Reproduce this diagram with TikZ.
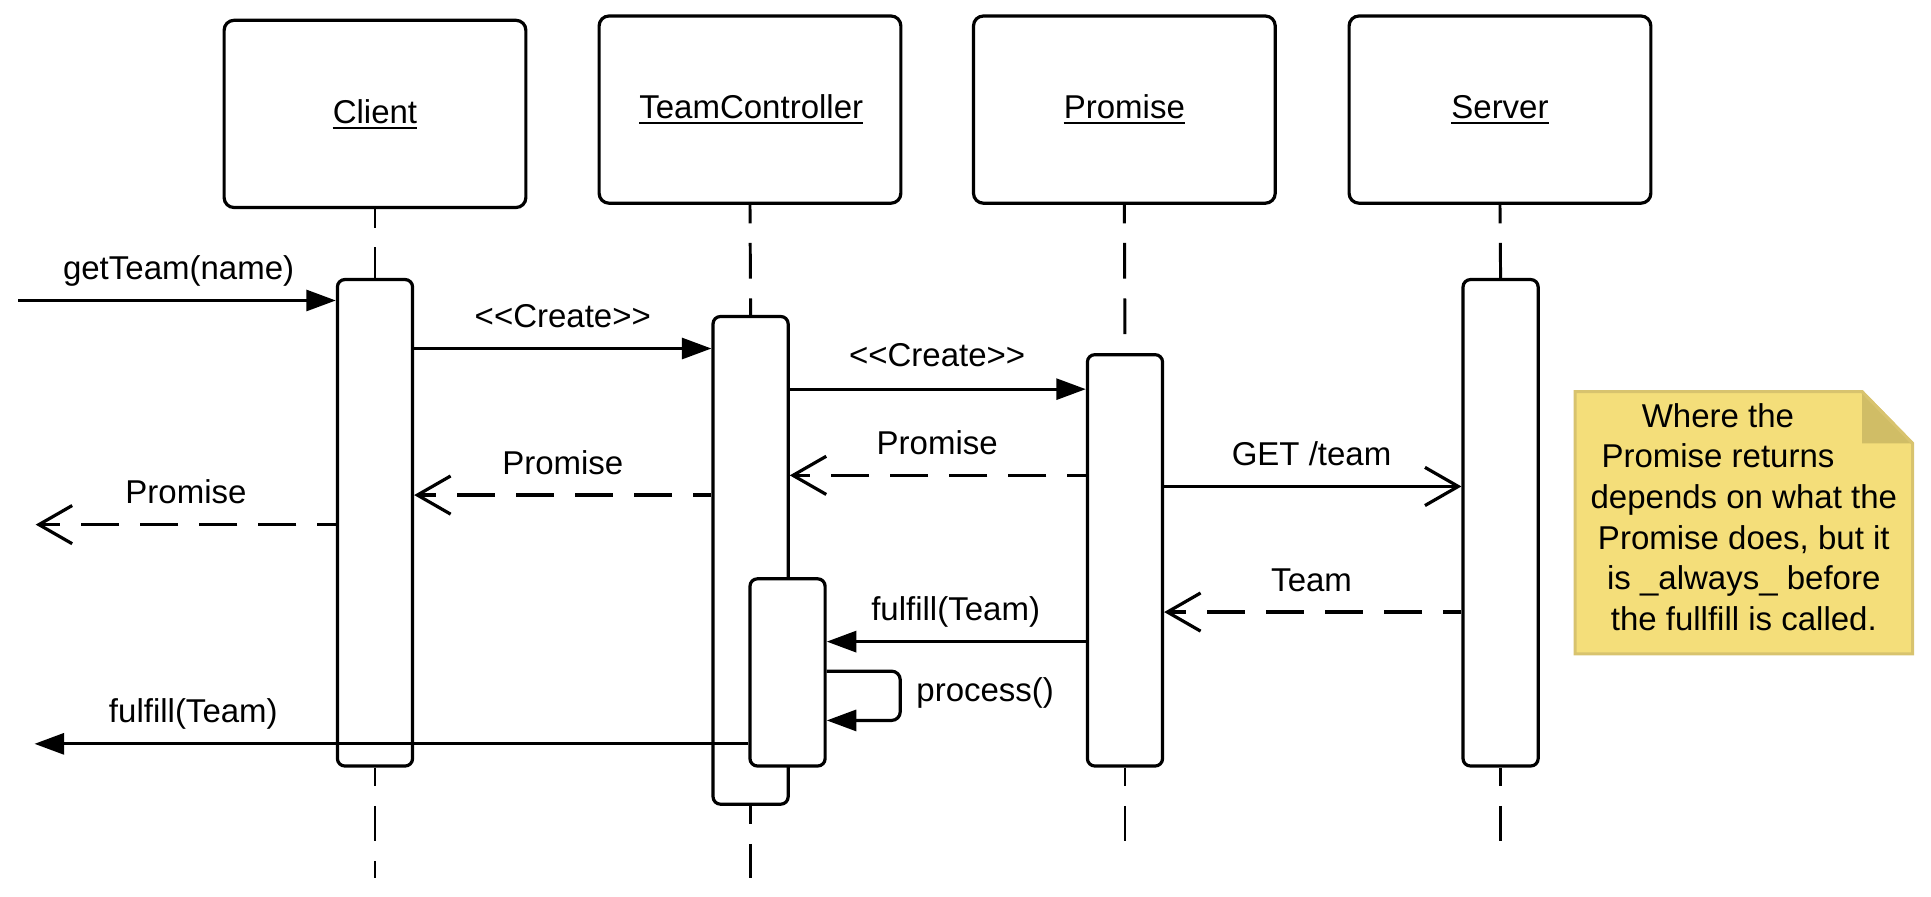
\documentclass[tikz,border=0pt]{standalone}
\usepackage{fontspec}
\setmainfont{Liberation Sans}
\usetikzlibrary{arrows.meta}
\definecolor{notefill}{HTML}{F4DE7A}
\definecolor{noteline}{HTML}{D8C36E}
\definecolor{notefold}{HTML}{D0BD66}
\begin{document}
\begin{tikzpicture}[x=1pt,y=-1pt,
  every node/.style={font=\fontsize{26.8}{33}\selectfont},
  headbox/.style={draw, line width=2.6pt, rounded corners=8pt, minimum width=245pt, minimum height=152pt, inner sep=0pt, fill=white},
  actbox/.style={draw, line width=2.6pt, rounded corners=6pt, minimum width=61pt, inner sep=0pt, fill=white},
  lifeline/.style={line width=2.4pt, dash pattern=on 29pt off 16pt, dash phase=14pt},
  lbl/.style={inner sep=0pt, anchor=base},
  msg/.style={line width=2.6pt, -{Triangle[length=24pt,width=17pt]}},
  reply/.style={line width=2.6pt, dash pattern=on 31pt off 17pt, dash phase=16pt, -{Straight Barb[length=27pt,width=31pt]}},
  async/.style={line width=2.6pt, -{Straight Barb[length=27pt,width=31pt]}},
  uline/.style={line width=1.8pt},
  notebox/.style={draw=noteline, line width=2.4pt, fill=notefill, line join=miter}
]
\useasboundingbox (0,0) rectangle (1568,727.6);

% heads
\node[headbox] (client) at (304.5,92.5) {};
\node[headbox] (tc) at (609,89) {};
\node[headbox] (prom) at (913,89) {};
\node[headbox] (serv) at (1218,89) {};
\node[lbl] (clientl) at (304.5,100) {Client};
\node[lbl] (tcl) at (610,96) {TeamController\ };
\node[lbl] (proml) at (913,96) {Promise};
\node[lbl] (servl) at (1218,96) {Server};
\foreach \n in {clientl,tcl,proml,servl}
  \draw[uline] ([yshift=-4pt]\n.base west) -- ([yshift=-4pt]\n.base east);

% activations
\node[actbox, minimum height=395pt] (ca) at (304.5,424.5) {};
\node[actbox, minimum height=396pt] (ta) at (609.5,455) {};
\node[actbox, minimum height=334pt] (pa) at (913.5,455) {};
\node[actbox, minimum height=395pt] (sa) at (1218.5,424.5) {};
\node[actbox, minimum height=152pt] (na) at (639.5,546) {};

% lifelines
\coordinate (cend) at (304.5,713);
\coordinate (tend) at (609.5,713);
\coordinate (pend) at (913.5,697);
\coordinate (send) at (1218.5,697);
\draw[lifeline] (client.south) -- (ca.north);
\draw[lifeline] (ca.south) -- (cend);
\draw[lifeline] (tc.south) -- (ta.north);
\draw[lifeline] (ta.south) -- (tend);
\draw[lifeline] (prom.south) -- (pa.north);
\draw[lifeline] (pa.south) -- (pend);
\draw[lifeline] (serv.south) -- (sa.north);
\draw[lifeline] (sa.south) -- (send);

% messages
\coordinate (m1s) at (15,244);
\draw[msg] (m1s) -- (m1s -| ca.west);
\node[lbl] (m1l) at (145,227) {getTeam(name)};

\draw[msg] (ca.east |- 0,283) -- (ta.west |- 0,283);
\node[lbl] (m2l) at (457,266) {<\kern0pt<Create>\kern0pt>};

\draw[msg] (ta.east |- 0,316) -- (pa.west |- 0,316);
\node[lbl] (m3l) at (761,298) {<\kern0pt<Create>\kern0pt>};

\draw[reply] (pa.west |- 0,386) -- (ta.east |- 0,386);
\node[lbl] (m4l) at (761,369) {Promise};

\draw[reply] (ta.west |- 0,402) -- (ca.east |- 0,402);
\node[lbl] (m5l) at (457,385) {Promise};

\coordinate (m6e) at (29,426);
\draw[reply] (ca.west |- m6e) -- (m6e);
\node[lbl] (m6l) at (151,409) {Promise};

\draw[async] (pa.east |- 0,395) -- (sa.west |- 0,395);
\node[lbl] (m7l) at (1065,378) {GET /team};

\draw[reply] (sa.west |- 0,497) -- (pa.east |- 0,497);
\node[lbl] (m8l) at (1065,480) {Team};

\draw[msg] (pa.west |- 0,521) -- (na.east |- 0,521);
\node[lbl] (m9l) at (776,504) {fulfill(Team)};

\coordinate (selfa) at (731,545);
\coordinate (selfb) at (731,585);
\draw[msg, rounded corners=7pt] (na.east |- selfa) -- (selfa) -- (selfb) -- (na.east |- selfb);
\node[lbl] (m10l) at (800,570) {process()};

\coordinate (m11e) at (28,604);
\draw[msg] (na.west |- m11e) -- (m11e);
\node[lbl] (m11l) at (157,587) {fulfill(Team)};

% note
\coordinate (note) at (1279,318);
\draw[notebox] (note) -- (1512,318) -- (1553,360) -- (1553,531) -- (1279,531) -- cycle;
\fill[notefold] (1512,319.5) -- (1512,360) -- (1551.5,360) -- cycle;
\draw[draw=noteline, line width=2.4pt] (1512,318) -- (1553,360);
\node[lbl] (n1) at (1395,347) {Where the};
\node[lbl] (n2) at (1395,380) {Promise returns};
\node[lbl] (n3) at (1416,413) {depends on what the};
\node[lbl] (n4) at (1416,446) {Promise does, but it};
\node[lbl] (n5) at (1416,479) {is \_always\_ before};
\node[lbl] (n6) at (1416,512) {the fullfill is called.};
\end{tikzpicture}
\end{document}
